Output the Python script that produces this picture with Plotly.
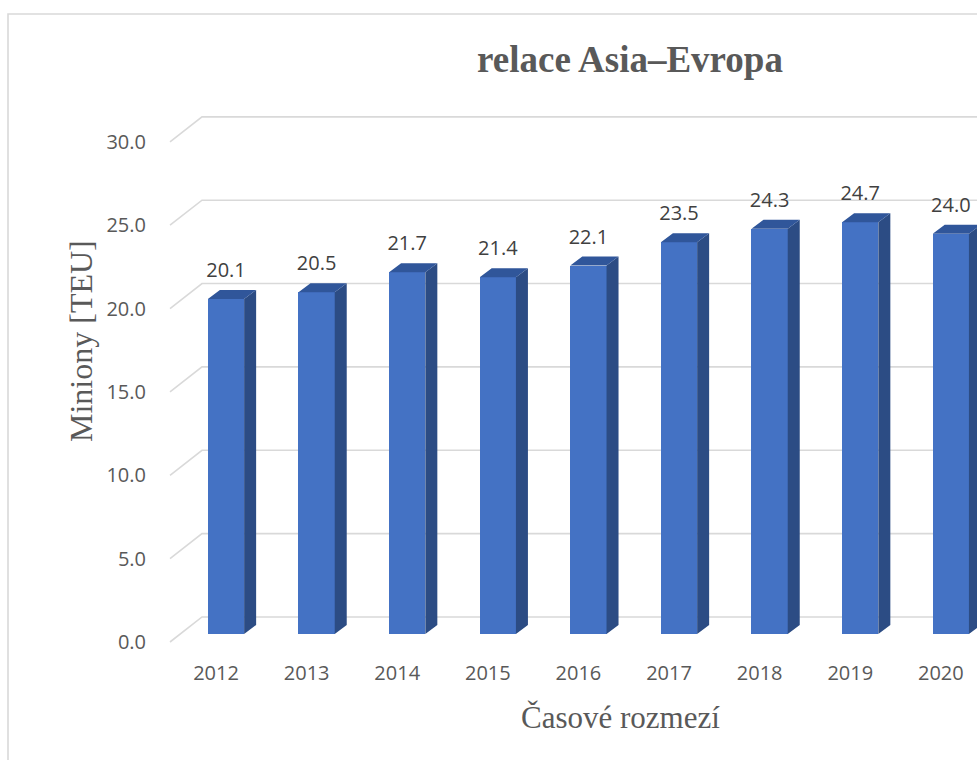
import plotly.graph_objects as go

# ---- data ----
years = ["2012", "2013", "2014", "2015", "2016", "2017", "2018", "2019", "2020"]
values = [20.1, 20.5, 21.7, 21.4, 22.1, 23.5, 24.3, 24.7, 24.0]
y_ticks = [0, 5, 10, 15, 20, 25, 30]

title_text = "relace Asia–Evropa"
y_title = "Miniony [TEU]"
x_title = "Časové rozmezí"

# ---- style / geometry constants ----
FRONT = "#4472C4"
SIDE = "#2C4C84"
TOP = "#30569A"
GRID = "#D9D9D9"
TXT = "#595959"
LBL = "#404040"

W, H = 977, 760
# plot area in window pixels: left 160, top 95, bottom 655, right 977
ML, MR, MT, MB = 160, 0, 95, 760 - 655
PW, PH = W - ML - MR, H - MT - MB

BAR_W = 0.4
DX, DY = 0.1325, 0.54
LBL_SHIFT = -0.48
BACK_SHIFT = 1.02
X0, X1 = -0.7285, 8.289
Y0, Y1 = -1.26, 32.33
GX_FRONT, GX_BACK = -0.618, -0.265


def px_x(px):  # window px -> paper x
    return (px - ML) / PW


def px_y(py):  # window px -> paper y
    return (H - MB - py) / PH


idx = list(range(len(years)))

fig = go.Figure()

# front faces
fig.add_trace(go.Bar(x=idx, y=values, width=BAR_W, marker=dict(color=FRONT, line=dict(width=0)),
                     showlegend=False, hoverinfo="x+y"))

# side faces
sx, sy = [], []
for i, v in zip(idx, values):
    r = i + BAR_W / 2
    sx += [r, r + DX, r + DX, r, r, None]
    sy += [0, DY, v + DY, v, 0, None]
fig.add_trace(go.Scatter(x=sx, y=sy, mode="lines", fill="toself", fillcolor=SIDE,
                         line=dict(width=0, color=SIDE), hoverinfo="skip", showlegend=False))

# top faces
tx, ty = [], []
for i, v in zip(idx, values):
    l, r = i - BAR_W / 2, i + BAR_W / 2
    tx += [l, l + DX, r + DX, r, l, None]
    ty += [v, v + DY, v + DY, v, v, None]
fig.add_trace(go.Scatter(x=tx, y=ty, mode="lines", fill="toself", fillcolor=TOP,
                         line=dict(width=0, color=TOP), hoverinfo="skip", showlegend=False))

# data labels
fig.add_trace(go.Scatter(x=idx, y=[v + DY + 1.08 for v in values], mode="text",
                         text=[f"{v:.1f}" for v in values], textposition="middle center",
                         textfont=dict(family="Open Sans", size=20, color=LBL),
                         cliponaxis=False, hoverinfo="skip", showlegend=False))

# dummy trace to carry the labelled value axis
fig.add_trace(go.Scatter(x=[None], y=[None], yaxis="y2", showlegend=False, hoverinfo="skip"))

# back-wall gridlines (with perspective diagonal), drawn beneath the bars
shapes = []
for t in y_ticks:
    shapes.append(dict(type="path", xref="x", yref="y", layer="below",
                       path=f"M {GX_FRONT},{t + LBL_SHIFT} L {GX_BACK},{t + BACK_SHIFT} L {X1 + 1},{t + BACK_SHIFT}",
                       line=dict(color=GRID, width=1.6)))
# chart border
shapes.append(dict(type="rect", xref="paper", yref="paper",
                   x0=px_x(8), x1=1.2, y0=-0.4, y1=px_y(14),
                   line=dict(color=GRID, width=1.6), fillcolor="rgba(0,0,0,0)", layer="below"))

fig.update_layout(
    width=W, height=H,
    margin=dict(l=ML, r=MR, t=MT, b=MB),
    paper_bgcolor="white", plot_bgcolor="white",
    title=dict(text=f"<b>{title_text}</b>", x=630 / W, xref="container",
               y=1 - 59 / H, yref="container", xanchor="center", yanchor="middle",
               font=dict(family="Liberation Serif", size=37, color=TXT)),
    xaxis=dict(range=[X0, X1], tickmode="array", tickvals=[i - 0.11 for i in idx], ticktext=years,
               showgrid=False, zeroline=False, showline=False, ticks="outside", ticklen=0,
               tickcolor="rgba(0,0,0,0)", tickfont=dict(family="Open Sans", size=20, color=TXT)),
    yaxis=dict(range=[Y0, Y1], showgrid=False, zeroline=False, showline=False,
               showticklabels=False),
    yaxis2=dict(range=[Y0 - LBL_SHIFT, Y1 - LBL_SHIFT], overlaying="y", side="left",
                tickmode="array", tickvals=y_ticks, ticktext=[f"{t:.1f}" for t in y_ticks],
                showgrid=False, zeroline=False, showline=False, ticks="outside", ticklen=9,
                tickcolor="rgba(0,0,0,0)", tickfont=dict(family="Open Sans", size=20, color=TXT)),
    annotations=[
        dict(text=y_title, xref="paper", yref="paper", x=px_x(81), y=px_y(341),
             textangle=-90, showarrow=False, xanchor="center", yanchor="middle",
             font=dict(family="Liberation Serif", size=32, color=TXT)),
        dict(text=x_title, xref="paper", yref="paper", x=px_x(620), y=px_y(717),
             showarrow=False, xanchor="center", yanchor="middle",
             font=dict(family="Liberation Serif", size=31, color=TXT)),
    ],
    shapes=shapes,
    bargap=0,
)

fig.write_html("out.html", config={"displayModeBar": False},
               post_script="document.body.style.margin='0';document.body.style.overflow='hidden';")
